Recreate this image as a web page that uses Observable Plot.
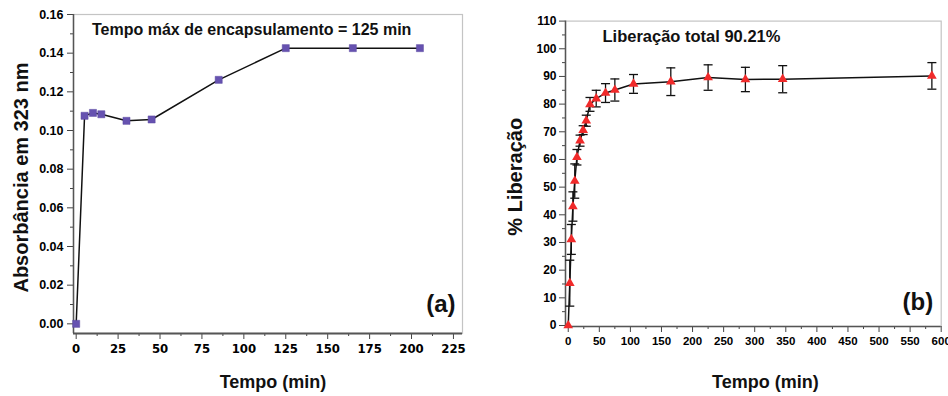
<!DOCTYPE html>
<html><head><meta charset="utf-8">
<script src="https://cdn.jsdelivr.net/npm/d3@7"></script>
<script src="https://cdn.jsdelivr.net/npm/@observablehq/plot@0.6"></script>
<style>
body{margin:0;background:#fff;}
#wrap{position:relative;width:948px;height:396px;overflow:hidden;background:#fff;}
#a{position:absolute;left:0;top:0;}
#b{position:absolute;left:500px;top:0;}
</style></head><body><div id="wrap"><div id="a"></div><div id="b"></div></div>
<script>
// ---- Panel (a): encapsulation ----
const encapTime = [0, 5, 10, 15, 30, 45, 85, 125, 165, 205];
const absorbance = [0, 0.1076, 0.1091, 0.1084, 0.1050, 0.1057, 0.1262, 0.1426, 0.1426, 0.1426];
const ticksAy = [0, 0.02, 0.04, 0.06, 0.08, 0.10, 0.12, 0.14, 0.16];
const ticksAx = [0, 25, 50, 75, 100, 125, 150, 175, 200, 225];
const noteA = "Tempo máx de encapsulamento = 125 min";
const yLabelA = "Absorbância em 323 nm";
const xLabel = "Tempo (min)";

// ---- Panel (b): release ----
const releaseTime = [0, 2.5, 5, 7.5, 10.5, 14, 19, 24, 29, 35, 45, 60, 75, 105, 165, 225, 285, 345, 585];
const releasePct  = [0, 15.3, 31.1, 43, 52.2, 60.8, 66.8, 70.6, 74, 79.9, 82, 84, 85.1, 87.3, 88.1, 89.6, 88.9, 89, 90.2];
const releaseErr  = [0, 8.3, 5.4, 5.3, 6.2, 2.8, 2, 1.6, 2, 2.5, 3, 3.4, 4, 3.4, 5, 4.6, 4.4, 4.9, 4.8];
const ticksBy = [0, 10, 20, 30, 40, 50, 60, 70, 80, 90, 100, 110];
const ticksBx = [0, 50, 100, 150, 200, 250, 300, 350, 400, 450, 500, 550, 600];
const noteB = "Liberação total 90.21%";
const yLabelB = "% Liberação";

const font = "'Liberation Sans', Arial, sans-serif";
const narrow = "'Liberation Sans Narrow', 'Arial Narrow', 'DejaVu Sans Condensed', sans-serif";

const dataA = encapTime.map((t, i) => ({t, v: absorbance[i]}));
const dataB = releaseTime.map((t, i) => ({t, v: releasePct[i], lo: releasePct[i] - releaseErr[i], hi: releasePct[i] + releaseErr[i], e: releaseErr[i]}));
const barsB = dataB.filter(d => d.e > 0);

const capSymbol = {draw(ctx, size) { const w = Math.sqrt(size / Math.PI); ctx.moveTo(-w, 0); ctx.lineTo(w, 0); }};

const xDomA = [-1.6, 230.4], yDomA = [-0.005, 0.16];
const minorAy = d3.range(0.01, 0.16, 0.02);
const minorAx = d3.range(12.5, 230, 25);

const txt = {text: d => d, fontWeight: "bold", fill: "#111", lineAnchor: "middle"};

const plotA = Plot.plot({
  width: 500, height: 396,
  marginLeft: 73, marginRight: 38, marginTop: 14, marginBottom: 63,
  style: {fontFamily: font, color: "#000", background: "transparent", overflow: "visible"},
  x: {domain: xDomA},
  y: {domain: yDomA},
  marks: [
    Plot.frame({stroke: "#c4c4c4", strokeWidth: 1.2}),
    Plot.axisY(ticksAy, {tickSize: 6, tickPadding: 4, fontSize: 12.5, fontWeight: "bold", tickFormat: d3.format(".2f"), label: null, stroke: "#444"}),
    Plot.axisY(minorAy, {tickSize: 3, tickFormat: () => "", label: null, stroke: "#444"}),
    Plot.axisX(ticksAx, {tickSize: 6, tickPadding: 4, fontSize: 13, fontWeight: "bold", fontFamily: narrow, label: null, stroke: "#444"}),
    Plot.axisX(minorAx, {tickSize: 3, tickFormat: () => "", label: null, stroke: "#444"}),
    Plot.ruleX([xDomA[0]], {stroke: "#555", strokeWidth: 1.5}),
    Plot.ruleY([yDomA[0]], {stroke: "#555", strokeWidth: 2}),
    Plot.line(dataA, {x: "t", y: "v", stroke: "#111", strokeWidth: 1.5}),
    Plot.dot(dataA, {x: "t", y: "v", symbol: "square", r: 4, fill: "#6652b0", stroke: "#5a48a0", strokeWidth: 0.5}),
    Plot.text([noteA], {...txt, frameAnchor: "top-left", textAnchor: "start", dx: 18.5, dy: 15.5, fontSize: 16}),
    Plot.text(["(a)"], {...txt, frameAnchor: "bottom-right", textAnchor: "end", dx: -7, dy: -29, fontSize: 24}),
    Plot.text([yLabelA], {...txt, frameAnchor: "left", textAnchor: "middle", rotate: -90, dx: -52, dy: 3.5, fontSize: 20}),
    Plot.text([xLabel], {...txt, frameAnchor: "bottom", textAnchor: "middle", dx: 5, dy: 48.5, fontSize: 18})
  ]
});
document.getElementById("a").append(plotA);

const xDomB = [-4.4, 600], yDomB = [-0.36, 110];
const minorBy = d3.range(5, 110, 10);
const minorBx = d3.range(25, 600, 50);

const plotB = Plot.plot({
  width: 448, height: 396,
  marginLeft: 65, marginRight: 7.3, marginTop: 20.6, marginBottom: 70,
  style: {fontFamily: font, color: "#000", background: "transparent", overflow: "visible"},
  x: {domain: xDomB},
  y: {domain: yDomB},
  marks: [
    Plot.frame({stroke: "#c4c4c4", strokeWidth: 1.2}),
    Plot.axisY(ticksBy, {tickSize: 6, tickPadding: 3, fontSize: 12, fontWeight: "bold", label: null, stroke: "#444"}),
    Plot.axisY(minorBy, {tickSize: 3, tickFormat: () => "", label: null, stroke: "#444"}),
    Plot.axisX(ticksBx, {tickSize: 6, tickPadding: 4, fontSize: 11.5, fontWeight: "bold", label: null, stroke: "#444"}),
    Plot.axisX(minorBx, {tickSize: 3, tickFormat: () => "", label: null, stroke: "#444"}),
    Plot.ruleX([xDomB[0]], {stroke: "#555", strokeWidth: 1.5}),
    Plot.ruleY([yDomB[0]], {stroke: "#555", strokeWidth: 1.5}),
    Plot.ruleX(barsB, {x: "t", y1: "lo", y2: "hi", stroke: "#111", strokeWidth: 1.3}),
    Plot.dot(barsB, {x: "t", y: "lo", symbol: capSymbol, r: 4.5, fill: "none", stroke: "#111", strokeWidth: 1.3}),
    Plot.dot(barsB, {x: "t", y: "hi", symbol: capSymbol, r: 4.5, fill: "none", stroke: "#111", strokeWidth: 1.3}),
    Plot.line(dataB, {x: "t", y: "v", stroke: "#111", strokeWidth: 1.5}),
    Plot.dot(dataB, {x: "t", y: "v", symbol: "triangle", r: 3.6, fill: "#f02a2a"}),
    Plot.text([noteB], {...txt, frameAnchor: "top-left", textAnchor: "start", dx: 37, dy: 16, fontSize: 16.5}),
    Plot.text(["(b)"], {...txt, frameAnchor: "bottom-right", textAnchor: "end", dx: -8, dy: -24, fontSize: 24}),
    Plot.text([yLabelB], {...txt, frameAnchor: "left", textAnchor: "middle", rotate: -90, dx: -50, dy: 3, fontSize: 20}),
    Plot.text([xLabel], {...txt, frameAnchor: "bottom", textAnchor: "middle", dx: 12, dy: 55.5, fontSize: 18})
  ]
});
document.getElementById("b").append(plotB);
</script>
</body></html>
